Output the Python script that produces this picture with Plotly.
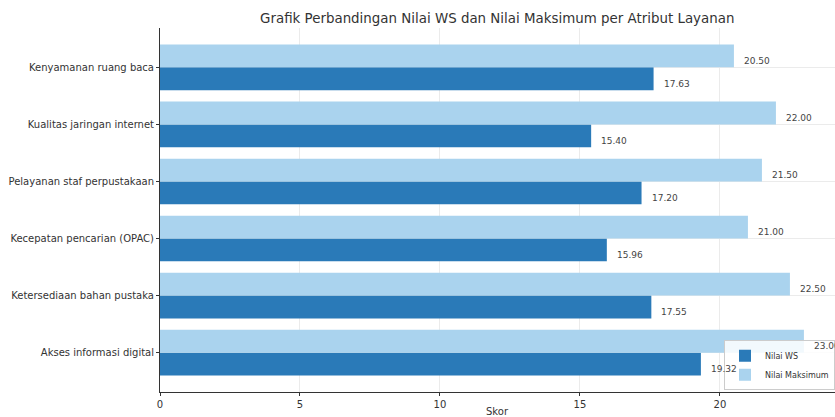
import plotly.graph_objects as go

# Data (top-to-bottom order as displayed)
categories = [
    "Kenyamanan ruang baca",
    "Kualitas jaringan internet",
    "Pelayanan staf perpustakaan",
    "Kecepatan pencarian (OPAC)",
    "Ketersediaan bahan pustaka",
    "Akses informasi digital",
]
nilai_ws = [17.63, 15.40, 17.20, 15.96, 17.55, 19.32]
nilai_maks = [20.50, 22.00, 21.50, 21.00, 22.50, 23.00]
x_ticks = [0, 5, 10, 15, 20]

# matplotlib-style: first category at bottom
cats = categories[::-1]
ws = nilai_ws[::-1]
mx = nilai_maks[::-1]
pos = list(range(len(cats)))
bar_h = 0.4

DARK = "#2a7ab8"
LIGHT = "#aad3ee"
FONT = "DejaVu Sans"

fig = go.Figure()
fig.add_trace(go.Bar(
    x=ws, y=[p - bar_h / 2 for p in pos], width=bar_h, orientation="h",
    marker=dict(color=DARK, line=dict(width=0)), name="Nilai WS",
))
fig.add_trace(go.Bar(
    x=mx, y=[p + bar_h / 2 for p in pos], width=bar_h, orientation="h",
    marker=dict(color=LIGHT, line=dict(width=0)), name="Nilai Maksimum",
))

annotations = []
for p, v in zip(pos, ws):
    annotations.append(dict(x=v, y=p - bar_h / 2, xref="x", yref="y", text=f"{v:.2f}",
                            showarrow=False, xanchor="left", yanchor="middle",
                            xshift=8, yshift=-5, font=dict(size=9, color="#444", family=FONT)))
for p, v in zip(pos, mx):
    annotations.append(dict(x=v, y=p + bar_h / 2, xref="x", yref="y", text=f"{v:.2f}",
                            showarrow=False, xanchor="left", yanchor="middle",
                            xshift=8, yshift=-5, font=dict(size=9, color="#444", family=FONT)))
annotations.append(dict(x=0.5, y=0, xref="paper", yref="paper", text="Skor",
                        showarrow=False, xanchor="center", yanchor="middle", yshift=-19,
                        font=dict(size=10, color="#333", family=FONT)))

fig.update_layout(
    width=835, height=417,
    margin=dict(l=160, r=0, t=28, b=25),
    paper_bgcolor="white", plot_bgcolor="white",
    barmode="overlay",
    font=dict(family=FONT, size=10, color="#333"),
    title=dict(text="Grafik Perbandingan Nilai WS dan Nilai Maksimum per Atribut Layanan",
               x=0.5955, xanchor="center", y=0.957, yanchor="middle",
               font=dict(size=13.4, color="#333", family=FONT)),
    xaxis=dict(range=[0, 24.11], tickvals=x_ticks, ticks="outside", ticklen=3,
               tickcolor="#333", showgrid=True, gridcolor="#ebebeb", gridwidth=1,
               showline=True, linecolor="#333", linewidth=1, zeroline=False,
               tickfont=dict(size=10, color="#333")),
    yaxis=dict(range=[-0.69, 5.69], tickvals=pos, ticktext=cats, ticks="outside",
               ticklen=3, tickcolor="#333", showgrid=True, gridcolor="#ebebeb",
               showline=True, linecolor="#333", linewidth=1, zeroline=False,
               tickfont=dict(size=10, color="#333")),
    legend=dict(x=1, y=0.005, xanchor="right", yanchor="bottom",
                bgcolor="rgba(255,255,255,0.85)", bordercolor="#ccc", borderwidth=1,
                font=dict(size=8, color="#333", family=FONT), traceorder="normal",
                itemwidth=30, tracegroupgap=0),
    annotations=annotations,
)

fig.write_html("out.html")
